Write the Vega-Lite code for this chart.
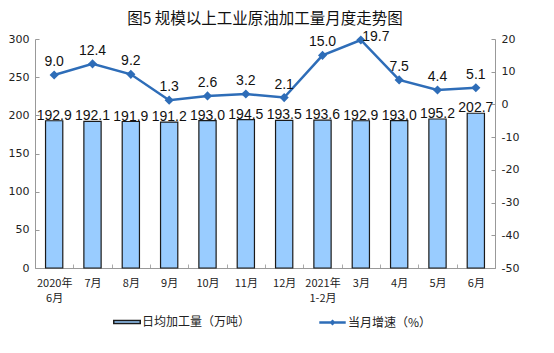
{
  "$schema": "https://vega.github.io/schema/vega-lite/v6.json",
  "width": 460,
  "height": 229,
  "autosize": {"type": "none"},
  "padding": {"left": 35, "top": 39, "right": 59, "bottom": 85},
  "background": "white",
  "title": {"text": "图5  规模以上工业原油加工量月度走势图", "font": "Noto Sans CJK SC", "fontSize": 15.5, "fontWeight": "normal", "color": "#111", "offset": 2},
  "data": {"values": [
    {"month": "2020年|6月", "amount": 192.9, "growth": 9.0},
    {"month": "7月", "amount": 192.1, "growth": 12.4},
    {"month": "8月", "amount": 191.9, "growth": 9.2},
    {"month": "9月", "amount": 191.2, "growth": 1.3},
    {"month": "10月", "amount": 193.0, "growth": 2.6},
    {"month": "11月", "amount": 194.5, "growth": 3.2},
    {"month": "12月", "amount": 193.5, "growth": 2.1},
    {"month": "2021年|1-2月", "amount": 193.6, "growth": 15.0},
    {"month": "3月", "amount": 192.9, "growth": 19.7},
    {"month": "4月", "amount": 193.0, "growth": 7.5},
    {"month": "5月", "amount": 195.2, "growth": 4.4},
    {"month": "6月", "amount": 202.7, "growth": 5.1}
  ]},
  "encoding": {
    "x": {"field": "month", "type": "ordinal", "sort": null, "title": null,
      "scale": {"paddingInner": 0, "paddingOuter": 0},
      "axis": {"labelExpr": "split(datum.label, '|')", "labelAngle": 0, "labelFont": "Noto Sans CJK SC", "labelFontSize": 11, "labelColor": "#222", "labelPadding": 13, "labelLineHeight": 15, "tickBand": "extent", "tickSize": -4, "tickColor": "#aaa", "domainColor": "#999", "grid": false}
    }
  },
  "layer": [
    {
      "mark": {"type": "bar", "width": {"band": 0.45}, "stroke": "#1a1a1a", "strokeWidth": 1.2},
      "encoding": {
        "y": {"field": "amount", "type": "quantitative", "title": null,
          "scale": {"domain": [0, 300]},
          "axis": {"orient": "left", "values": [0, 50, 100, 150, 200, 250, 300], "grid": false, "tickSize": -4, "tickColor": "#999", "domainColor": "#999", "labelFont": "DejaVu Sans", "labelFontSize": 11, "labelColor": "#222", "labelPadding": 10}
        },
        "fill": {"datum": "日均加工量（万吨）", "type": "nominal", "scale": {"range": ["#99CCFF"]},
          "legend": {"title": null, "orient": "none", "legendX": 78, "legendY": 269, "symbolType": "M-1,-0.12L1,-0.12L1,0.12L-1,0.12Z", "symbolSize": 700, "symbolStrokeColor": "#1a1a1a", "symbolStrokeWidth": 1.5, "labelFont": "Noto Sans CJK SC", "labelFontSize": 12, "labelColor": "#222", "labelOffset": 1}
        }
      }
    },
    {
      "mark": {"type": "text", "baseline": "alphabetic", "dy": -1, "font": "Liberation Sans", "fontSize": 14, "color": "#111"},
      "encoding": {
        "y": {"field": "amount", "type": "quantitative", "scale": {"domain": [0, 300]}, "axis": null},
        "text": {"field": "amount", "type": "quantitative", "format": ".1f"}
      }
    },
    {
      "mark": {"type": "line", "strokeWidth": 2.5, "point": {"shape": "diamond", "size": 40, "filled": true, "color": "#2E6DB8"}},
      "encoding": {
        "y": {"field": "growth", "type": "quantitative", "title": null,
          "scale": {"domain": [-50, 20]},
          "axis": {"orient": "right", "values": [-50, -40, -30, -20, -10, 0, 10, 20], "labelExpr": "'' + datum.value", "grid": false, "tickSize": -4, "tickColor": "#999", "domainColor": "#999", "labelFont": "DejaVu Sans", "labelFontSize": 11, "labelColor": "#222", "labelPadding": 10}
        },
        "stroke": {"datum": "当月增速（%）", "type": "nominal", "scale": {"range": ["#2E6DB8"]},
          "legend": {"title": null, "orient": "none", "legendX": 283, "legendY": 269, "symbolType": "M-1,0L1,0M0,-0.1L0.1,0L0,0.1L-0.1,0Z", "symbolSize": 700, "symbolStrokeWidth": 2.5, "symbolFillColor": "#2E6DB8", "labelFont": "Noto Sans CJK SC", "labelFontSize": 12, "labelColor": "#222", "labelOffset": 1}
        }
      }
    },
    {
      "transform": [{"filter": "datum.growth < 19"}],
      "mark": {"type": "text", "baseline": "alphabetic", "dy": -9, "font": "Liberation Sans", "fontSize": 14, "color": "#111"},
      "encoding": {
        "y": {"field": "growth", "type": "quantitative", "scale": {"domain": [-50, 20]}, "axis": null},
        "text": {"field": "growth", "type": "quantitative", "format": ".1f"}
      }
    },
    {
      "transform": [{"filter": "datum.growth >= 19"}],
      "mark": {"type": "text", "baseline": "alphabetic", "dx": 15, "dy": 1, "font": "Liberation Sans", "fontSize": 14, "color": "#111"},
      "encoding": {
        "y": {"field": "growth", "type": "quantitative", "scale": {"domain": [-50, 20]}, "axis": null},
        "text": {"field": "growth", "type": "quantitative", "format": ".1f"}
      }
    }
  ],
  "resolve": {"scale": {"y": "independent", "fill": "independent", "stroke": "independent"}},
  "config": {"view": {"stroke": null}}
}
